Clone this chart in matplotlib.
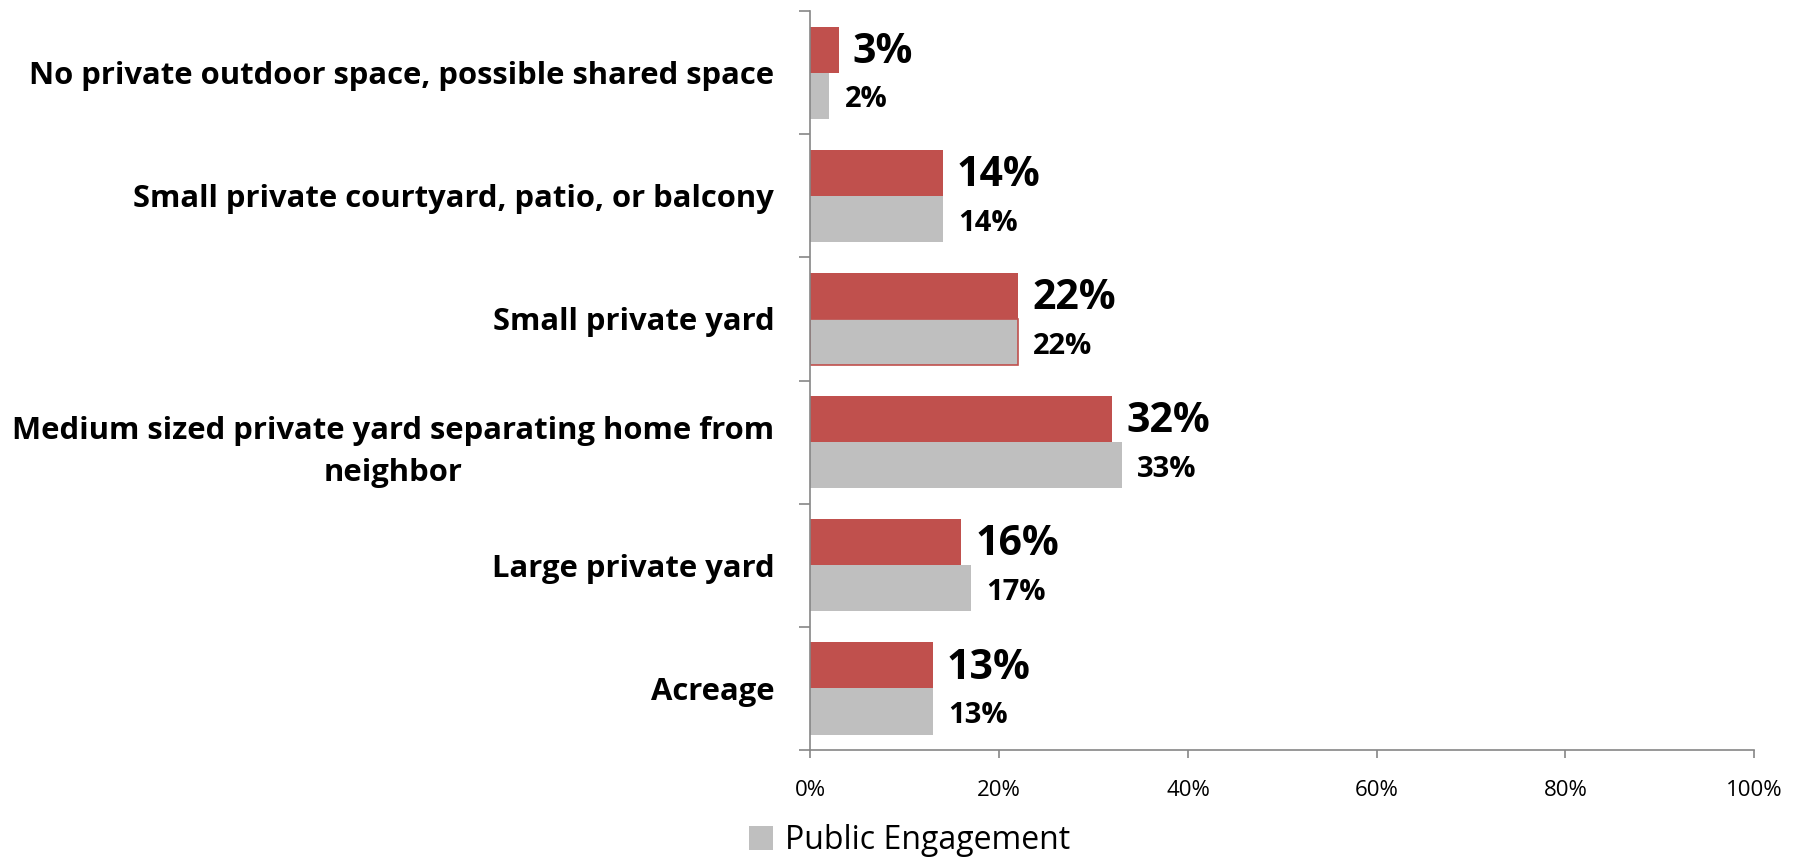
import matplotlib.pyplot as plt
import numpy as np

# survey answers, top to bottom
categories = [
    "No private outdoor space, possible shared space",
    "Small private courtyard, patio, or balcony",
    "Small private yard",
    "Medium sized private yard separating home from\nneighbor",
    "Large private yard",
    "Acreage",
]
survey_pct = [3, 14, 22, 32, 16, 13]
engagement_pct = [2, 14, 22, 33, 17, 13]
xtick_vals = [0, 20, 40, 60, 80, 100]

red = "#C0504D"
grey = "#BFBFBF"
spine = "#868686"

plt.rcParams["font.family"] = ["Open Sans", "DejaVu Sans"]

fig = plt.figure(figsize=(18.01, 8.58), dpi=100)
ax = fig.add_axes([0.450, 0.126, 0.524, 0.861])

n = len(categories)
pos = np.arange(n)[::-1]  # first category at the top
h = 0.375

red_bars = ax.barh(pos + h / 2, survey_pct, height=h, color=red)
grey_bars = ax.barh(pos - h / 2, engagement_pct, height=h, color=grey,
                    label="Public Engagement")
# the small private yard bar is outlined
grey_bars[2].set_edgecolor(red)
grey_bars[2].set_linewidth(1.2)

for y, v in zip(pos, survey_pct):
    ax.annotate(f"{v}%", (v, y + h / 2), xytext=(10, -2), textcoords="offset points",
                va="center", ha="left", fontsize=29.5, fontweight="bold")
for y, v in zip(pos, engagement_pct):
    ax.annotate(f"{v}%", (v, y - h / 2), xytext=(11, -3), textcoords="offset points",
                va="center", ha="left", fontsize=21, fontweight="bold")

ax.set_xlim(0, 100)
ax.set_ylim(-0.5, n - 0.5)
ax.set_xticks(xtick_vals)
ax.set_xticklabels([f"{v}%" for v in xtick_vals], fontsize=16)

ax.set_yticks(pos)
ax.set_yticklabels(categories, fontsize=22.3, fontweight="bold",
                   multialignment="center", linespacing=1.55)
ax.set_yticks(np.arange(n + 1) - 0.5, minor=True)
ax.tick_params(axis="y", which="major", length=0, pad=26)
ax.tick_params(axis="y", which="minor", length=8, color=spine, width=1.2)
ax.tick_params(axis="x", length=6, color=spine, width=1.2, pad=16)

for s in ["top", "right"]:
    ax.spines[s].set_visible(False)
for s in ["left", "bottom"]:
    ax.spines[s].set_color(spine)
    ax.spines[s].set_linewidth(1.2)

ax.legend(handles=[grey_bars], loc="upper center", bbox_to_anchor=(0.105, -0.083),
          frameon=False, fontsize=23, handlelength=0.75, handleheight=0.75,
          handletextpad=0.35, borderaxespad=0)

fig.savefig("out.png", dpi=100)
